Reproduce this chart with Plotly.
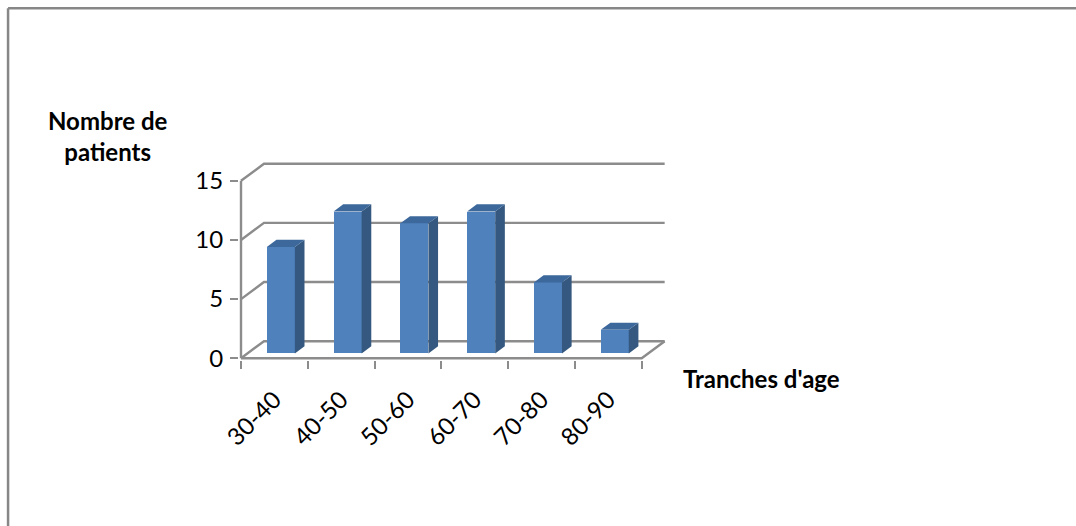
import plotly.graph_objects as go

# Patients per age bracket
categories = ["30-40", "40-50", "50-60", "60-70", "70-80", "80-90"]
patients = [9, 12, 11, 12, 6, 2]
y_ticks = [0, 5, 10, 15]

# 3D look: depth offset of the walls (in axis units) and bar placement in depth
DX, DY = 0.344, 1.44          # full depth shift along x (categories) and y (patients)
D0, D1 = 0.28, 0.70           # bar front / back, as fractions of the depth
BAR_W = 0.42

FRONT, SIDE, TOP = "#4F81BD", "#34587F", "#3D689C"
GRID = "#8C8C8C"
FONT = "Lato"
TICK_SIZE = 24
TITLE_SIZE = 24

n = len(categories)
xs = list(range(n))
x_lo, x_hi = -0.5, n - 0.5

# figure geometry (pixels)
W, H = 1076, 526
PX_X, PX_Y = 66.8, 11.8       # pixels per category / per patient
x_range = [x_lo - 0.03, x_hi + DX + 0.02]
y_range = [-0.15, y_ticks[-1] + DY + 0.15]
left = 239
plot_w = (x_range[1] - x_range[0]) * PX_X
plot_h = (y_range[1] - y_range[0]) * PX_Y
bottom = 526 - 359.8
top = H - bottom - plot_h
right = W - left - plot_w


def paper_x(px):
    return (px - left) / plot_w


def paper_y(py):
    return (H - bottom - py) / plot_h


def path(points):
    return "M " + " L ".join(f"{x},{y}" for x, y in points)


# walls: back gridlines with their receding edges, floor edges, value axis edge
wall_paths = []
for v in y_ticks:
    wall_paths.append(path([(x_lo, v), (x_lo + DX, v + DY), (x_hi + DX, v + DY)]))
wall_paths.append(path([(x_lo, 0), (x_hi, 0), (x_hi + DX, DY)]))
wall_paths.append(path([(x_lo, 0), (x_lo, y_ticks[-1])]))
wall_shapes = [dict(type="path", xref="x", yref="y", path=p, layer="below",
                    line=dict(color=GRID, width=2.4)) for p in wall_paths]

fig = go.Figure()

# front faces of the bars
base = D0 * DY
centers = [i + D0 * DX for i in xs]
fig.add_trace(go.Bar(x=centers, y=patients, base=base, width=BAR_W,
                     marker=dict(color=FRONT, line=dict(width=0)),
                     showlegend=False, hovertext=categories))

# side and top faces of the bars
dd = D1 - D0
sx, sy, tx, ty = [], [], [], []
for c, v in zip(centers, patients):
    xl, xr = c - BAR_W / 2, c + BAR_W / 2
    yt = base + v
    sx += [xr, xr + dd * DX, xr + dd * DX, xr, xr, None]
    sy += [base, base + dd * DY, yt + dd * DY, yt, base, None]
    tx += [xl, xr, xr + dd * DX, xl + dd * DX, xl, None]
    ty += [yt, yt, yt + dd * DY, yt + dd * DY, yt, None]
fig.add_trace(go.Scatter(x=sx, y=sy, mode="lines", fill="toself",
                         fillcolor=SIDE, line=dict(width=0, color=SIDE),
                         hoverinfo="skip", showlegend=False))
fig.add_trace(go.Scatter(x=tx, y=ty, mode="lines", fill="toself",
                         fillcolor=TOP, line=dict(width=0, color=TOP),
                         hoverinfo="skip", showlegend=False))

fig.update_layout(
    width=W, height=H,
    margin=dict(l=left, r=right, t=top, b=bottom, pad=0),
    paper_bgcolor="white", plot_bgcolor="white",
    font=dict(family=FONT, color="#000000"),
    bargap=0,
    xaxis=dict(range=x_range, tickmode="array", tickvals=xs, ticktext=categories,
               tickangle=-45, ticks="", showgrid=False, zeroline=False,
               showline=False, tickfont=dict(size=TICK_SIZE, family=FONT),
               ticklabelstandoff=20,
               minor=dict(tickmode="array", tickvals=[i - 0.5 for i in range(n + 1)],
                          ticks="outside", ticklen=8, tickwidth=2.4, tickcolor=GRID,
                          showgrid=False)),
    yaxis=dict(range=y_range, tickmode="array", tickvals=y_ticks,
               ticks="outside", ticklen=8, tickwidth=2.4, tickcolor=GRID,
               showgrid=False, zeroline=False, showline=False,
               tickfont=dict(size=TICK_SIZE, family=FONT), ticklabelstandoff=2),
    annotations=[
        dict(text="<b>Nombre de<br>patients</b>", xref="paper", yref="paper",
             x=paper_x(108), y=paper_y(136), xanchor="center", yanchor="middle",
             showarrow=False, font=dict(size=TITLE_SIZE, family=FONT)),
        dict(text="<b>Tranches d'age</b>", xref="paper", yref="paper",
             x=paper_x(681), y=paper_y(378), xanchor="left", yanchor="middle",
             showarrow=False, font=dict(size=TITLE_SIZE, family=FONT)),
    ],
    shapes=wall_shapes + [
        dict(type="line", xref="paper", yref="paper", x0=paper_x(8), x1=paper_x(W + 5),
             y0=paper_y(9), y1=paper_y(9), line=dict(color="#878787", width=2.5)),
        dict(type="line", xref="paper", yref="paper", x0=paper_x(8), x1=paper_x(8),
             y0=paper_y(9), y1=paper_y(H + 5), line=dict(color="#878787", width=2.5)),
    ],
)

fig.write_html("out.html")
